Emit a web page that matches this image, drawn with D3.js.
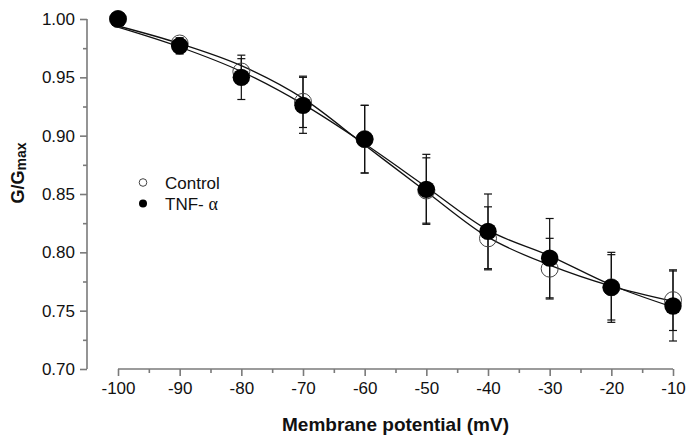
<!DOCTYPE html>
<html>
<head>
<meta charset="utf-8">
<script src="https://cdn.jsdelivr.net/npm/d3@7"></script>
<style>
  html, body { margin: 0; padding: 0; background: #fff; }
  svg { display: block; }
  text { font-family: Arial, "Liberation Sans", sans-serif; fill: #111; }
</style>
</head>
<body>
<svg id="chart" width="692" height="444"></svg>
<script>
// ---- data ----
const voltages = [-100, -90, -80, -70, -60, -50, -40, -30, -20, -10];
const controlValues = [1.000, 0.979, 0.955, 0.929, 0.897, 0.853, 0.812, 0.786, 0.770, 0.759];
const controlErrors = [0.000, 0.004, 0.011, 0.022, 0.029, 0.028, 0.027, 0.026, 0.028, 0.026];
const tnfValues = [1.000, 0.977, 0.950, 0.926, 0.897, 0.854, 0.818, 0.795, 0.770, 0.754];
const tnfErrors = [0.000, 0.007, 0.019, 0.024, 0.029, 0.030, 0.032, 0.034, 0.030, 0.030];
// fitted (Boltzmann) curves as drawn in the figure
const controlFit = [0.994, 0.979, 0.960, 0.932, 0.892, 0.852, 0.813, 0.789, 0.771, 0.758];
const tnfFit = [0.993, 0.976, 0.955, 0.927, 0.893, 0.856, 0.819, 0.797, 0.772, 0.753];
const xTicks = [-100, -90, -80, -70, -60, -50, -40, -30, -20, -10];
const xMinorTicks = [-95, -85, -75, -65, -55, -45, -35, -25, -15];
const yTicks = [0.70, 0.75, 0.80, 0.85, 0.90, 0.95, 1.00];
const yMinorTicks = [0.725, 0.775, 0.825, 0.875, 0.925, 0.975];
const seriesNames = ["Control", "TNF- "];
const xTitle = "Membrane potential (mV)";

// ---- layout ----
const svg = d3.select("#chart");
const x = d3.scaleLinear().domain([-100, -10]).range([118, 673]);
const y = d3.scaleLinear().domain([0.70, 1.00]).range([369, 19]);
const yAxisX = 87;
const axisColor = "#7a7a7a";

// y axis
const yAxis = d3.axisLeft(y).tickValues(yTicks).tickFormat(d => d.toFixed(2)).tickSize(7).tickPadding(5);
const gy = svg.append("g").attr("transform", `translate(${yAxisX},0)`).call(yAxis);
gy.select(".domain").attr("d", `M0,${y(0.70)}V${y(1.00)}`);
gy.selectAll("path,line").attr("stroke", axisColor).attr("stroke-width", 1.6);
gy.selectAll("text").style("font-size", "17px").attr("fill", "#111");
const gyMinor = svg.append("g").attr("transform", `translate(${yAxisX},0)`)
  .call(d3.axisLeft(y).tickValues(yMinorTicks).tickSize(4).tickFormat(""));
gyMinor.select(".domain").remove();
gyMinor.selectAll("line").attr("stroke", axisColor).attr("stroke-width", 1.6);

// x axis
const xAxis = d3.axisBottom(x).tickValues(xTicks).tickFormat(d => String(d)).tickSize(7).tickPadding(6);
const gx = svg.append("g").attr("transform", `translate(0,${y(0.70)})`).call(xAxis);
gx.select(".domain").attr("d", `M${x(-100)},0H${x(-10)}`);
gx.selectAll("path,line").attr("stroke", axisColor).attr("stroke-width", 1.6);
gx.selectAll("text").style("font-size", "17px").attr("fill", "#111");
const gxMinor = svg.append("g").attr("transform", `translate(0,${y(0.70)})`)
  .call(d3.axisBottom(x).tickValues(xMinorTicks).tickSize(4).tickFormat(""));
gxMinor.select(".domain").remove();
gxMinor.selectAll("line").attr("stroke", axisColor).attr("stroke-width", 1.6);

// axis titles
svg.append("text")
  .attr("x", (x(-100) + x(-10)) / 2).attr("y", 431)
  .attr("text-anchor", "middle")
  .style("font-size", "19px").style("font-weight", "bold")
  .text(xTitle);

const yt = svg.append("text")
  .attr("transform", "translate(24,173) rotate(-90)")
  .attr("text-anchor", "middle")
  .style("font-size", "18px").style("font-weight", "bold");
yt.append("tspan").text("G/G");
yt.append("tspan").attr("dy", 2).style("font-size", "14px").text("max");

// fitted curves
const line = d3.line().x(d => x(d[0])).y(d => y(d[1])).curve(d3.curveMonotoneX);
[controlFit, tnfFit].forEach(fit => {
  svg.append("path")
    .datum(voltages.map((v, i) => [v, fit[i]]))
    .attr("d", line)
    .attr("fill", "none")
    .attr("stroke", "#111")
    .attr("stroke-width", 1.3);
});

// error bars
function errorBars(vals, errs) {
  const g = svg.append("g").attr("stroke", "#111").attr("stroke-width", 1.2);
  voltages.forEach((v, i) => {
    if (errs[i] <= 0) return;
    const cx = x(v), y1 = y(vals[i] + errs[i]), y2 = y(vals[i] - errs[i]);
    g.append("line").attr("x1", cx).attr("x2", cx).attr("y1", y1).attr("y2", y2);
    g.append("line").attr("x1", cx - 4).attr("x2", cx + 4).attr("y1", y1).attr("y2", y1);
    g.append("line").attr("x1", cx - 4).attr("x2", cx + 4).attr("y1", y2).attr("y2", y2);
  });
}
errorBars(controlValues, controlErrors);
errorBars(tnfValues, tnfErrors);

// markers
svg.append("g").selectAll("circle").data(voltages).join("circle")
  .attr("cx", d => x(d))
  .attr("cy", (d, i) => y(controlValues[i]))
  .attr("r", 8.5)
  .attr("fill", "none")
  .attr("stroke", "#444")
  .attr("stroke-width", 1);
svg.append("g").selectAll("circle").data(voltages).join("circle")
  .attr("cx", d => x(d))
  .attr("cy", (d, i) => y(tnfValues[i]))
  .attr("r", 8.7)
  .attr("fill", "#000");

// legend
const legend = svg.append("g");
legend.append("circle").attr("cx", 143).attr("cy", 182.5).attr("r", 3.8)
  .attr("fill", "none").attr("stroke", "#444").attr("stroke-width", 1);
legend.append("text").attr("x", 165).attr("y", 188.5).style("font-size", "17px").text(seriesNames[0]);
legend.append("circle").attr("cx", 143).attr("cy", 203.5).attr("r", 4).attr("fill", "#000");
const t2 = legend.append("text").attr("x", 165).attr("y", 209.5).style("font-size", "17px");
t2.append("tspan").text(seriesNames[1]);
t2.append("tspan").style("font-family", "'Liberation Serif', 'DejaVu Serif', serif").style("font-size", "18px").text("\u03b1");
</script>
</body>
</html>
